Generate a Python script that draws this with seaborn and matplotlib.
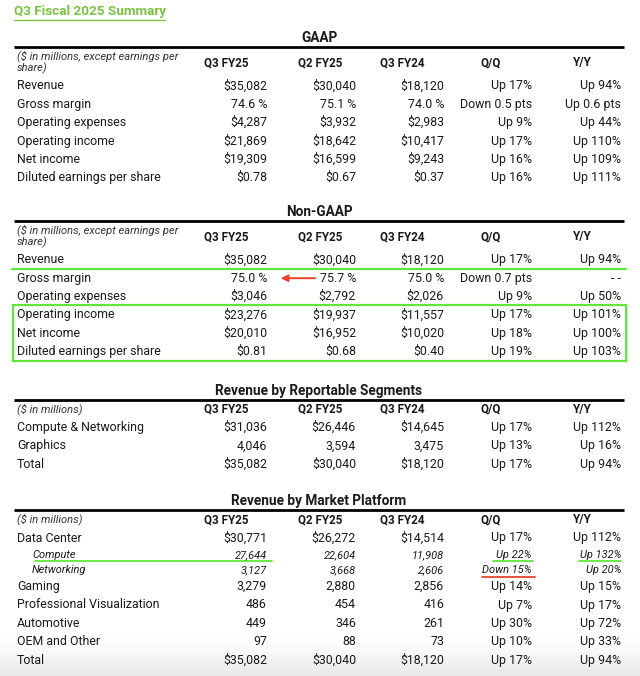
import numpy as np
import pandas as pd
import matplotlib.pyplot as plt
import seaborn as sns
from matplotlib.colors import LinearSegmentedColormap

# === Data ===
col_names = ["Q3 FY25", "Q2 FY25", "Q3 FY24", "Q/Q", "Y/Y"]

gaap_rows = ["Revenue", "Gross margin", "Operating expenses", "Operating income",
             "Net income", "Diluted earnings per share"]
gaap_q3fy25 = ["$35,082", "74.6 %", "$4,287", "$21,869", "$19,309", "$0.78"]
gaap_q2fy25 = ["$30,040", "75.1 %", "$3,932", "$18,642", "$16,599", "$0.67"]
gaap_q3fy24 = ["$18,120", "74.0 %", "$2,983", "$10,417", "$9,243", "$0.37"]
gaap_qq = ["Up 17%", "Down 0.5 pts", "Up 9%", "Up 17%", "Up 16%", "Up 16%"]
gaap_yy = ["Up 94%", "Up 0.6 pts", "Up 44%", "Up 110%", "Up 109%", "Up 111%"]

ng_rows = gaap_rows
ng_q3fy25 = ["$35,082", "75.0 %", "$3,046", "$23,276", "$20,010", "$0.81"]
ng_q2fy25 = ["$30,040", "75.7 %", "$2,792", "$19,937", "$16,952", "$0.68"]
ng_q3fy24 = ["$18,120", "75.0 %", "$2,026", "$11,557", "$10,020", "$0.40"]
ng_qq = ["Up 17%", "Down 0.7 pts", "Up 9%", "Up 17%", "Up 18%", "Up 19%"]
ng_yy = ["Up 94%", "- -", "Up 50%", "Up 101%", "Up 100%", "Up 103%"]

seg_rows = ["Compute & Networking", "Graphics", "Total"]
seg_q3fy25 = ["$31,036", "4,046", "$35,082"]
seg_q2fy25 = ["$26,446", "3,594", "$30,040"]
seg_q3fy24 = ["$14,645", "3,475", "$18,120"]
seg_qq = ["Up 17%", "Up 13%", "Up 17%"]
seg_yy = ["Up 112%", "Up 16%", "Up 94%"]

plat_rows = ["Data Center", "Compute", "Networking", "Gaming",
             "Professional Visualization", "Automotive", "OEM and Other", "Total"]
plat_sub = [False, True, True, False, False, False, False, False]
plat_q3fy25 = ["$30,771", "27,644", "3,127", "3,279", "486", "449", "97", "$35,082"]
plat_q2fy25 = ["$26,272", "22,604", "3,668", "2,880", "454", "346", "88", "$30,040"]
plat_q3fy24 = ["$14,514", "11,908", "2,606", "2,856", "416", "261", "73", "$18,120"]
plat_qq = ["Up 17%", "Up 22%", "Down 15%", "Up 14%", "Up 7%", "Up 30%", "Up 10%", "Up 17%"]
plat_yy = ["Up 112%", "Up 132%", "Up 20%", "Up 15%", "Up 17%", "Up 72%", "Up 33%", "Up 94%"]

sections = [
    dict(title="GAAP", note=["($ in millions, except earnings per", "share)"],
         df=pd.DataFrame({"label": gaap_rows, "Q3 FY25": gaap_q3fy25, "Q2 FY25": gaap_q2fy25,
                          "Q3 FY24": gaap_q3fy24, "Q/Q": gaap_qq, "Y/Y": gaap_yy})),
    dict(title="Non-GAAP", note=["($ in millions, except earnings per", "share)"],
         df=pd.DataFrame({"label": ng_rows, "Q3 FY25": ng_q3fy25, "Q2 FY25": ng_q2fy25,
                          "Q3 FY24": ng_q3fy24, "Q/Q": ng_qq, "Y/Y": ng_yy})),
    dict(title="Revenue by Reportable Segments", note=["($ in millions)"],
         df=pd.DataFrame({"label": seg_rows, "Q3 FY25": seg_q3fy25, "Q2 FY25": seg_q2fy25,
                          "Q3 FY24": seg_q3fy24, "Q/Q": seg_qq, "Y/Y": seg_yy})),
    dict(title="Revenue by Market Platform", note=["($ in millions)"],
         df=pd.DataFrame({"label": plat_rows, "sub": plat_sub, "Q3 FY25": plat_q3fy25,
                          "Q2 FY25": plat_q2fy25, "Q3 FY24": plat_q3fy24,
                          "Q/Q": plat_qq, "Y/Y": plat_yy})),
]

# === Layout (pixel space) ===
section_top = [38, 212, 390.5, 501]
col_right = [267, 356, 444, 532, 621]
col_center = [226, 320, 402, 491, 582]
TXT = "#1a1a1a"
GREEN = "#62e63c"
RED = "#e8442c"

sns.set_theme(style="white")
plt.rcParams["font.family"] = ["Roboto", "DejaVu Sans"]

fig = plt.figure(figsize=(6.4, 6.76), dpi=100)
ax = fig.add_axes([0, 0, 1, 1])

# soft grey shading at the bottom edge (white -> light grey)
shade = LinearSegmentedColormap.from_list("shade", ["#ffffff", "#e8e8e8"])
grad = np.linspace(0, 1, 60)[:, None] ** 1.3
ax.imshow(grad, extent=(0, 640, 676, 638), origin="upper", cmap=shade,
          vmin=0, vmax=1, aspect="auto", zorder=0)
ax.set_xlim(0, 640)
ax.set_ylim(676, 0)
ax.axis("off")

# title
ax.text(14, 12, "Q3 Fiscal 2025 Summary", color="#7cc242", fontsize=9.7,
        fontweight="bold", va="center", ha="left")
ax.plot([14, 165], [19.5, 19.5], color="#7cc242", lw=1.0)

row_y = {}
for s, top in zip(sections, section_top):
    ax.text(319, top, s["title"], fontsize=9.8, fontweight="bold", color=TXT,
            ha="center", va="center")
    line_y = top + 9.3
    ax.plot([14, 624], [line_y, line_y], color="black", lw=2.0, solid_capstyle="butt")
    if len(s["note"]) == 2:
        hdr_y = line_y + 15.5
        ax.text(17, hdr_y - 6.5, s["note"][0], fontsize=8.0, style="italic", color="#333333", va="center")
        ax.text(17, hdr_y + 5.5, s["note"][1], fontsize=8.0, style="italic", color="#333333", va="center")
        y = hdr_y + 23
    else:
        hdr_y = line_y + 9.3
        ax.text(17, hdr_y, s["note"][0], fontsize=8.0, style="italic", color="#333333", va="center")
        y = hdr_y + 18.4
    for c, cx in zip(col_names, col_center):
        ax.text(cx, hdr_y, c, fontsize=8.4, fontweight="bold", color=TXT, ha="center", va="center")
    df = s["df"]
    ys = []
    for _, r in df.iterrows():
        sub = bool(r.get("sub", False))
        if sub:
            y -= 1.5
        fs = 7.9 if sub else 8.9
        st = "italic" if sub else "normal"
        ax.text(32 if sub else 17, y, r["label"], fontsize=fs, style=st, color=TXT, va="center")
        for c, rx in zip(col_names, col_right):
            ax.text(rx, y, r[c], fontsize=fs, style=st, color=TXT, ha="right", va="center")
        ys.append(y)
        y += 16.6 if sub else 18.4
    row_y[s["title"]] = ys

# highlights
ng = row_y["Non-GAAP"]
ax.plot([12, 626], [ng[0] + 9.3, ng[0] + 9.3], color=GREEN, lw=1.6)
ax.add_patch(plt.Rectangle((12.5, ng[3] - 9.6), 613.5, ng[5] - ng[3] + 19.2,
                           fill=False, ec=GREEN, lw=1.6))
ax.annotate("", xy=(278, ng[1]), xytext=(318, ng[1]),
            arrowprops=dict(arrowstyle="-|>", color=RED, lw=1.4, mutation_scale=10))

pl = row_y["Revenue by Market Platform"]
ax.plot([35, 272], [pl[1] + 6.5, pl[1] + 6.5], color=GREEN, lw=1.3)
ax.plot([493, 533], [pl[1] + 6.5, pl[1] + 6.5], color=GREEN, lw=1.3)
ax.plot([579, 621], [pl[1] + 6.5, pl[1] + 6.5], color=GREEN, lw=1.3)
ax.plot([482, 535], [pl[2] + 7.3, pl[2] + 7.3], color=RED, lw=1.3)

fig.savefig("out.png", dpi=100, facecolor="white")
